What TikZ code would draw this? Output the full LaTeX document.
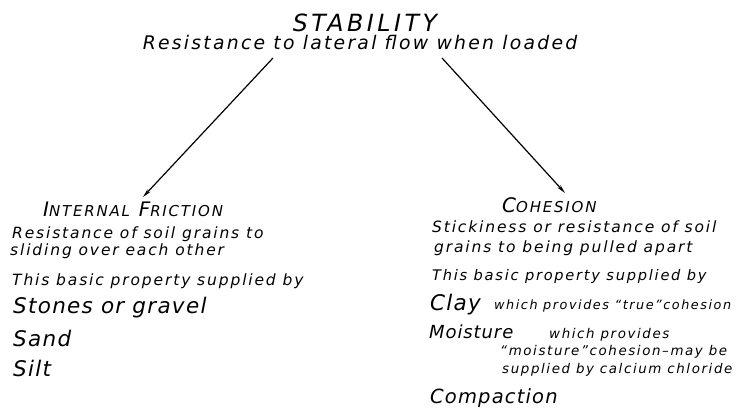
\documentclass[tikz,border=0pt]{standalone}
\usepackage{fontspec}
\setmainfont{DejaVu Sans}[LetterSpace=12]
\usetikzlibrary{arrows.meta}
\newcommand{\fsz}[1]{\fontsize{#1}{#1}\selectfont}
\newcommand{\smc}[2]{#1{\fsz{15}#2}}
\begin{document}
\begin{tikzpicture}[x=1pt,y=-1pt,
	every node/.style={anchor=base west,inner sep=0pt,font=\itshape},
	head/.style={font=\itshape\fsz{20}},
	big/.style={font=\itshape\fsz{21.5}\addfontfeature{LetterSpace=6}},
	txt/.style={font=\itshape\fsz{15.5}},
	note/.style={font=\itshape\fsz{13.4}},
	link/.style={-{Stealth[length=9pt,width=4pt]},line width=1.2pt}]
\useasboundingbox (0,0) rectangle (737,409);
\node[anchor=base,font=\itshape\fsz{23.7}\addfontfeature{LetterSpace=15}] (stab) at (365,32) {STABILITY};
\node[anchor=base,font=\itshape\fsz{18.8}] (flow) at (360,50) {Resistance to lateral flow when loaded};
\node[head] (fric) at (43,217) {\smc{I}{NTERNAL} \smc{F}{RICTION}};
\node[txt] (fric1) at (12,238) {Resistance of soil grains to};
\node[txt] (fric2) at (10,255) {sliding over each other};
\node[txt] (fric3) at (12,285) {This basic property supplied by};
\node[big] (stones) at (13,313) {Stones or gravel};
\node[big] (sand) at (13,346) {Sand};
\node[big] (silt) at (13,376) {Silt};
\node[head] (coh) at (502,212) {\smc{C}{OHESION}};
\node[txt] (coh1) at (432,233) {Stickiness or resistance of soil};
\node[txt] (coh2) at (434,252) {grains to being pulled apart};
\node[font=\itshape\fsz{14.6}] (coh3) at (432,280) {This basic property supplied by};
\node[big] (clay) at (430,310) {Clay};
\node[font=\itshape\fsz{12.8}] (clay1) at (494,309) {which provides “true”cohesion};
\node[font=\itshape\fsz{18}\addfontfeature{LetterSpace=5}] (moist) at (429,338) {Moisture};
\node[note] (moist1) at (549,338) {which provides};
\node[note] (moist2) at (500,355) {“moisture”cohesion–may be};
\node[note] (moist3) at (502,373) {supplied by calcium chloride};
\node[font=\itshape\fsz{19.5}\addfontfeature{LetterSpace=6}] (comp) at (430,403.5) {Compaction};
\coordinate (fl) at (273,58);
\coordinate (fr) at (442,58);
\coordinate (tl) at (143,197);
\coordinate (tr) at (565,193);
\draw[link] (fl) -- (tl);
\draw[link] (fr) -- (tr);
\end{tikzpicture}
\end{document}
